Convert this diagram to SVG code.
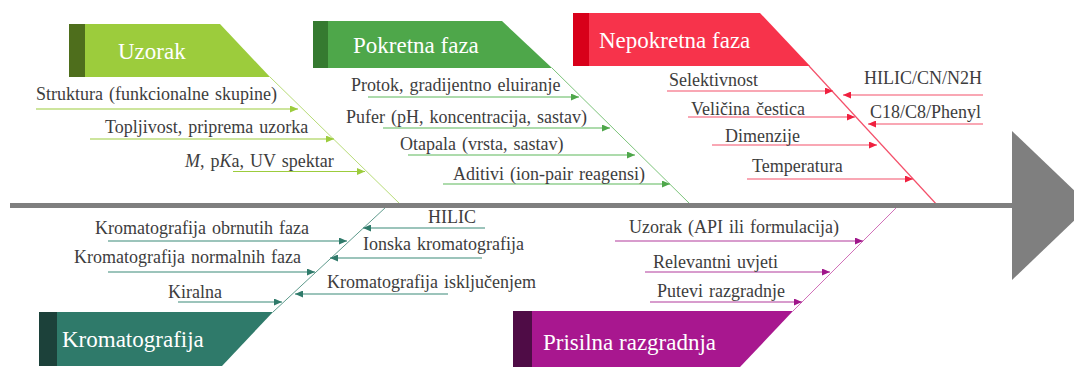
<svg xmlns="http://www.w3.org/2000/svg" width="1074" height="367" viewBox="0 0 1074 367">
<style>
.lbl{font-family:"Liberation Serif","Times New Roman",serif;font-size:18px;fill:#3d3d3d;word-spacing:1.5px}
.hdr{font-family:"Liberation Serif","Times New Roman",serif;font-size:23px;fill:#ffffff}
.c-uz{stroke:#9ccc3c;stroke-width:1.2;fill:none}
.c-pk{stroke:#5cb85a;stroke-width:1.2;fill:none}
.c-np{stroke:#f4506a;stroke-width:1.2;fill:none}
.c-kr{stroke:#3a8a78;stroke-width:1.2;fill:none}
.c-pr{stroke:#b23a9c;stroke-width:1.2;fill:none}
.s-uz{stroke:#b8dc78;stroke-width:1;fill:none}
.s-pk{stroke:#7cc47a;stroke-width:1;fill:none}
.s-np{stroke:#f4506a;stroke-width:1.2;fill:none}
.s-kr{stroke:#5e9a8c;stroke-width:1;fill:none}
.s-pr{stroke:#d070b8;stroke-width:1;fill:none}
</style>
<defs>
<marker id="a-uz" markerUnits="userSpaceOnUse" markerWidth="8" markerHeight="7" refX="8" refY="3.5" orient="auto"><path d="M0,0 L8,3.5 L0,7 z" fill="#9ccc3c"/></marker>
<marker id="a-pk" markerUnits="userSpaceOnUse" markerWidth="8" markerHeight="7" refX="8" refY="3.5" orient="auto"><path d="M0,0 L8,3.5 L0,7 z" fill="#4ea74a"/></marker>
<marker id="a-np" markerUnits="userSpaceOnUse" markerWidth="8" markerHeight="7" refX="8" refY="3.5" orient="auto"><path d="M0,0 L8,3.5 L0,7 z" fill="#f0203f"/></marker>
<marker id="a-kr" markerUnits="userSpaceOnUse" markerWidth="8" markerHeight="7" refX="8" refY="3.5" orient="auto"><path d="M0,0 L8,3.5 L0,7 z" fill="#2f7a6a"/></marker>
<marker id="a-pr" markerUnits="userSpaceOnUse" markerWidth="8" markerHeight="7" refX="8" refY="3.5" orient="auto"><path d="M0,0 L8,3.5 L0,7 z" fill="#a0158a"/></marker>
</defs>
<rect width="1074" height="367" fill="#ffffff"/>

<g id="connectors">
  <line class="s-uz" x1="270" y1="77" x2="400" y2="204"/>
  <line class="s-pk" x1="552" y1="68" x2="690" y2="204"/>
  <line class="s-np" x1="809" y1="66" x2="938" y2="206"/>
  <line class="s-kr" x1="273" y1="312" x2="386" y2="207"/>
  <line class="s-pr" x1="793" y1="311" x2="897" y2="207"/>
  <line class="c-uz" x1="36" y1="109" x2="298" y2="109" marker-end="url(#a-uz)"/>
  <line class="c-uz" x1="90" y1="139" x2="334" y2="139" marker-end="url(#a-uz)"/>
  <line class="c-uz" x1="233" y1="171.5" x2="365" y2="171.5" marker-end="url(#a-uz)"/>
  <line class="c-pk" x1="368" y1="97" x2="579" y2="97" marker-end="url(#a-pk)"/>
  <line class="c-pk" x1="383" y1="128" x2="610" y2="128" marker-end="url(#a-pk)"/>
  <line class="c-pk" x1="408" y1="155" x2="635" y2="155" marker-end="url(#a-pk)"/>
  <line class="c-pk" x1="443" y1="184" x2="670" y2="184" marker-end="url(#a-pk)"/>
  <line class="c-np" x1="667" y1="91" x2="833" y2="91" marker-end="url(#a-np)"/>
  <line class="c-np" x1="688" y1="117" x2="855" y2="117" marker-end="url(#a-np)"/>
  <line class="c-np" x1="712" y1="145" x2="877" y2="145" marker-end="url(#a-np)"/>
  <line class="c-np" x1="747" y1="179" x2="913" y2="179" marker-end="url(#a-np)"/>
  <line class="c-np" x1="983" y1="95" x2="843" y2="95" marker-end="url(#a-np)"/>
  <line class="c-np" x1="983" y1="124" x2="868" y2="124" marker-end="url(#a-np)"/>
  <line class="c-kr" x1="108" y1="241" x2="347" y2="241" marker-end="url(#a-kr)"/>
  <line class="c-kr" x1="108" y1="272" x2="315" y2="272" marker-end="url(#a-kr)"/>
  <line class="c-kr" x1="178" y1="302" x2="282" y2="302" marker-end="url(#a-kr)"/>
  <line class="c-kr" x1="485" y1="228" x2="363" y2="228" marker-end="url(#a-kr)"/>
  <line class="c-kr" x1="482" y1="258" x2="330" y2="258" marker-end="url(#a-kr)"/>
  <line class="c-kr" x1="448" y1="294" x2="295" y2="294" marker-end="url(#a-kr)"/>
  <line class="c-pr" x1="615" y1="241" x2="863" y2="241" marker-end="url(#a-pr)"/>
  <line class="c-pr" x1="645" y1="272" x2="830" y2="272" marker-end="url(#a-pr)"/>
  <line class="c-pr" x1="650" y1="302" x2="802" y2="302" marker-end="url(#a-pr)"/>
  <line x1="10" y1="205.5" x2="1013" y2="205.5" stroke="#7f7f7f" stroke-width="5"/>
  <polygon points="1012,131 1090,205.5 1012,280" fill="#7f7f7f"/>
</g>

<g id="uzorak">
  <polygon points="85,24 220,24 270,77 85,77" fill="#9ccc3c"/>
  <rect x="69" y="24" width="16" height="53" fill="#4e6e1c"/>
  <text class="hdr" x="118" y="59">Uzorak</text>
  <text class="lbl" x="36" y="100">Struktura (funkcionalne skupine)</text>
  <text class="lbl" x="105" y="133">Topljivost, priprema uzorka</text>
  <text class="lbl" x="185" y="167"><tspan font-style="italic">M</tspan>, p<tspan font-style="italic">K</tspan>a, UV spektar</text>
</g>

<g id="pokretna-faza">
  <polygon points="328,21 502,21 552,68 328,68" fill="#4ea74a"/>
  <rect x="313" y="21" width="15" height="47" fill="#357a30"/>
  <text class="hdr" x="353" y="53">Pokretna faza</text>
  <text class="lbl" x="351" y="91">Protok, gradijentno eluiranje</text>
  <text class="lbl" x="346" y="123">Pufer (pH, koncentracija, sastav)</text>
  <text class="lbl" x="400" y="150">Otapala (vrsta, sastav)</text>
  <text class="lbl" x="453" y="180">Aditivi (ion-pair reagensi)</text>
</g>

<g id="nepokretna-faza">
  <polygon points="589,13 760,13 810,66 589,66" fill="#f7334b"/>
  <rect x="573" y="13" width="16" height="53" fill="#d8001a"/>
  <text class="hdr" x="599" y="48">Nepokretna faza</text>
  <text class="lbl" x="669" y="86">Selektivnost</text>
  <text class="lbl" x="691" y="115">Veličina čestica</text>
  <text class="lbl" x="725" y="142">Dimenzije</text>
  <text class="lbl" x="752" y="172">Temperatura</text>
  <text class="lbl" x="864" y="84">HILIC/CN/N2H</text>
  <text class="lbl" x="870" y="118">C18/C8/Phenyl</text>
</g>

<g id="kromatografija">
  <polygon points="57,312 273,312 222,366 57,366" fill="#2f7a6a"/>
  <rect x="39" y="312" width="18" height="54" fill="#1c413a"/>
  <text class="hdr" x="62" y="347">Kromatografija</text>
  <text class="lbl" x="95" y="234">Kromatografija obrnutih faza</text>
  <text class="lbl" x="74" y="263">Kromatografija normalnih faza</text>
  <text class="lbl" x="168" y="298">Kiralna</text>
  <text class="lbl" x="428" y="223">HILIC</text>
  <text class="lbl" x="363" y="250">Ionska kromatografija</text>
  <text class="lbl" x="327" y="288">Kromatografija isključenjem</text>
</g>

<g id="prisilna-razgradnja">
  <polygon points="532,311 793,311 740,367 532,367" fill="#a8178f"/>
  <rect x="513" y="311" width="19" height="56" fill="#4f0c46"/>
  <text class="hdr" x="543" y="350">Prisilna razgradnja</text>
  <text class="lbl" x="629" y="233">Uzorak (API ili formulacija)</text>
  <text class="lbl" x="653" y="268">Relevantni uvjeti</text>
  <text class="lbl" x="657" y="297">Putevi razgradnje</text>
</g>
</svg>
